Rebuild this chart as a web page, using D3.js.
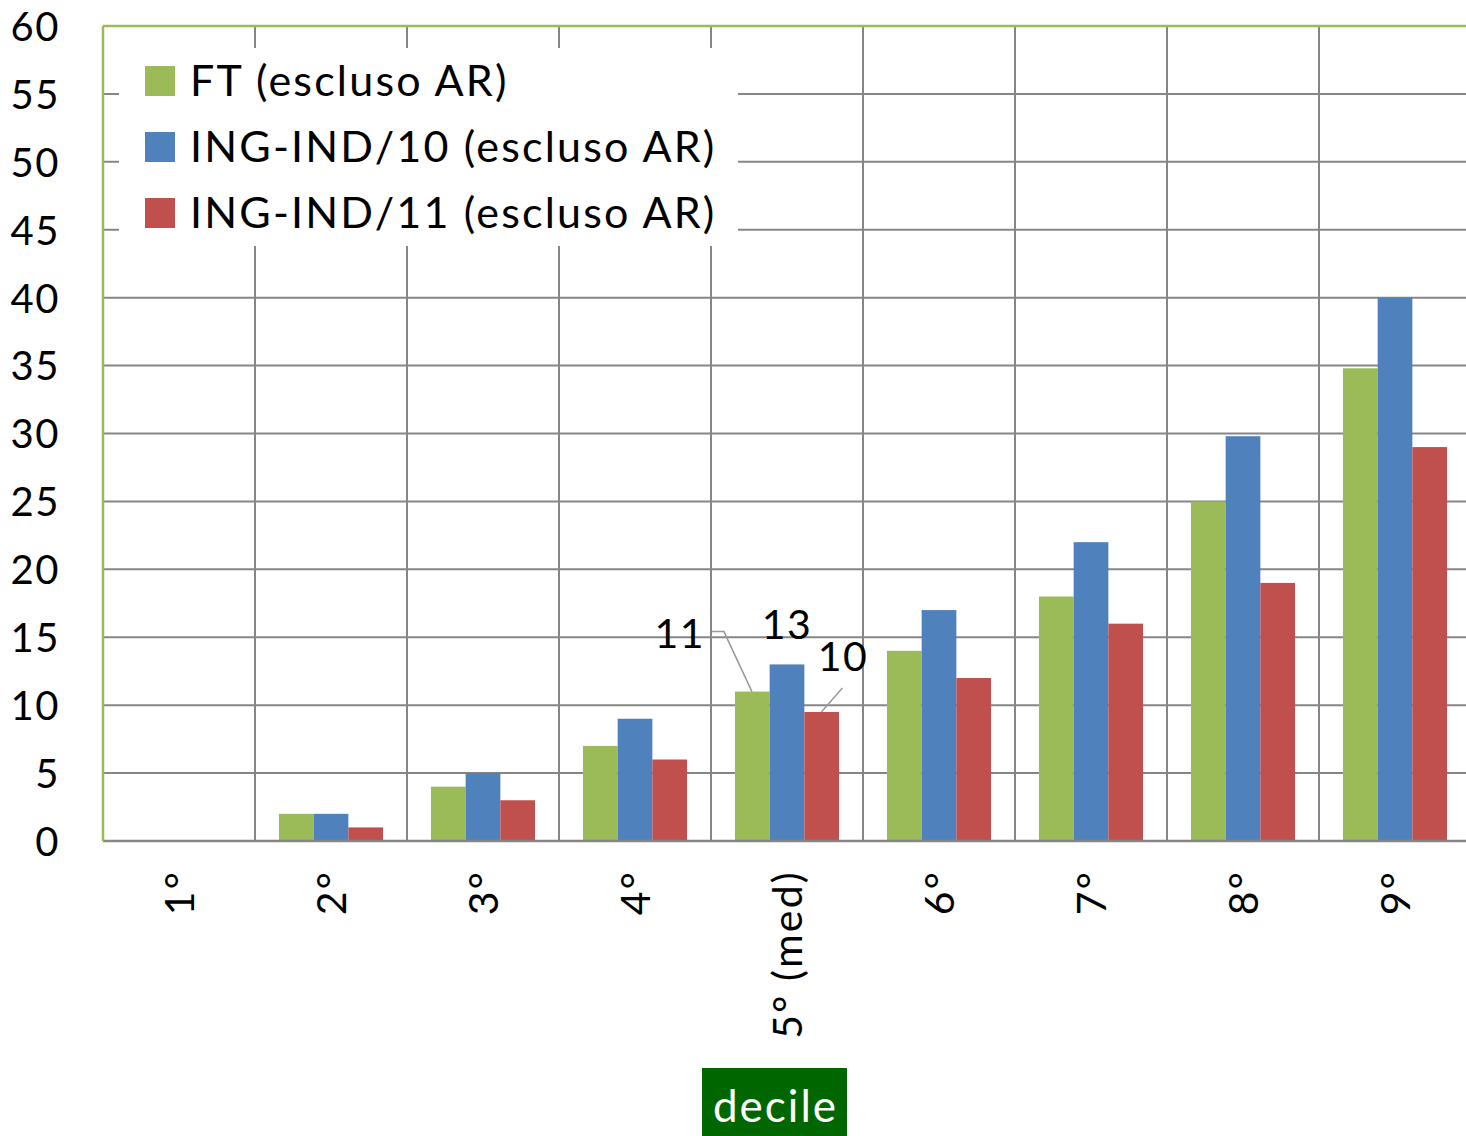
<!DOCTYPE html>
<html><head><meta charset="utf-8">
<script src="https://cdn.jsdelivr.net/npm/d3@7/dist/d3.min.js"></script>
<style>
html,body{margin:0;padding:0;background:#fff;}
text{font-family:Lato,"Open Sans",sans-serif;}
</style></head>
<body><svg id="chart" width="1466" height="1136"></svg>
<script>
const categories = ["1°","2°","3°","4°","5° (med)","6°","7°","8°","9°"];
const seriesNames = ["FT (escluso AR)","ING-IND/10 (escluso AR)","ING-IND/11 (escluso AR)"];
const seriesColors = ["#9BBB59","#4F81BD","#C0504D"];
const ftValues    = [0, 2, 4, 7, 11, 14, 18, 25, 34.8];
const ind10Values = [0, 2, 5, 9, 13, 17, 22, 29.8, 40];
const ind11Values = [0, 1, 3, 6, 9.5, 12, 16, 19, 29];
const yTicks = [0,5,10,15,20,25,30,35,40,45,50,55,60];
const dataLabels = [
  {cat:"5° (med)", s:0, text:"11"},
  {cat:"5° (med)", s:1, text:"13"},
  {cat:"5° (med)", s:2, text:"10"}
];
const axisTitle = "decile";

const seriesValues = [ftValues, ind10Values, ind11Values];
const svg = d3.select("#chart");
const m = {left:103, top:26};
const W = 1368, H = 815;
const LS = 2.2;
const g = svg.append("g").attr("transform",`translate(${m.left},${m.top})`);

const x0 = d3.scaleBand().domain(categories).range([0,W]).padding(0);
const x1 = d3.scaleBand().domain(d3.range(3)).range([0,x0.bandwidth()]).paddingInner(0).paddingOuter(0.69);
const y = d3.scaleLinear().domain([0,60]).range([H,0]);

const grid = "#868686";
g.selectAll(".hg").data(yTicks.filter(t=>t>0 && t<60)).enter().append("line")
  .attr("x1",0).attr("x2",W).attr("y1",d=>y(d)).attr("y2",d=>y(d))
  .attr("stroke",grid).attr("stroke-width",2);
g.selectAll(".vg").data(categories.slice(1)).enter().append("line")
  .attr("x1",d=>x0(d)).attr("x2",d=>x0(d)).attr("y1",0).attr("y2",H)
  .attr("stroke",grid).attr("stroke-width",2);

// legend background
svg.append("rect").attr("x",119).attr("y",48).attr("width",619).attr("height",198).attr("fill","#fff");

// bars
seriesValues.forEach((vals,s)=>{
  g.selectAll(".b"+s).data(categories.map((c,i)=>({c,v:vals[i]}))).enter().append("rect")
    .attr("x",d=>x0(d.c)+x1(s)).attr("width",x1.bandwidth())
    .attr("y",d=>y(d.v)).attr("height",d=>H-y(d.v))
    .attr("fill",seriesColors[s]);
});

// axes lines
g.append("line").attr("x1",0).attr("x2",W).attr("y1",H).attr("y2",H).attr("stroke",grid).attr("stroke-width",2.5);
g.append("line").attr("x1",0).attr("x2",0).attr("y1",0).attr("y2",H).attr("stroke","#9BBB59").attr("stroke-width",2.5);
g.append("line").attr("x1",0).attr("x2",W).attr("y1",0).attr("y2",0).attr("stroke","#9BBB59").attr("stroke-width",2.5);

// y axis labels
const ya = g.append("g").call(d3.axisLeft(y).tickValues(yTicks).tickSize(0).tickPadding(43));
ya.select(".domain").remove();
ya.selectAll("text").attr("font-size",40).attr("fill","#000").attr("font-family","Lato")
  .attr("letter-spacing",1.5).attr("dy","0.36em");

// x axis labels
const xa = g.append("g").attr("transform",`translate(0,${H})`);
xa.selectAll("text").data(categories).enter().append("text")
  .attr("transform",d=>`translate(${x0(d)+x0.bandwidth()/2},29) rotate(-90)`)
  .attr("text-anchor","end").attr("dy","0.36em").attr("letter-spacing",LS)
  .attr("font-size",41).attr("fill","#000").text(d=>d);

// data labels with leaders
const lbl = g.append("g").attr("font-size",41).attr("letter-spacing",1.5);
const dl = dataLabels.map(d=>{
  const bx = x0(d.cat)+x1(d.s), bw = x1.bandwidth(), v = seriesValues[d.s][categories.indexOf(d.cat)];
  return {...d, bx, bw, top:y(v)};
});
{
  const d = dl[0];
  lbl.append("polyline").attr("points",[[d.bx-23,d.top-60],[d.bx-11,d.top-60],[d.bx+17,d.top]].map(p=>p.join(",")).join(" "))
    .attr("fill","none").attr("stroke","#999").attr("stroke-width",1.5);
  lbl.append("text").attr("x",d.bx-30).attr("y",d.top-44).attr("text-anchor","end").text(d.text);
}
{
  const d = dl[1];
  lbl.append("text").attr("x",d.bx+d.bw/2).attr("y",d.top-25).attr("text-anchor","middle").text(d.text);
}
{
  const d = dl[2];
  lbl.append("polyline").attr("points",[[d.bx+38,d.top-24],[d.bx+17,d.top]].map(p=>p.join(",")).join(" "))
    .attr("fill","none").attr("stroke","#999").attr("stroke-width",1.5);
  lbl.append("text").attr("x",d.bx+d.bw+4).attr("y",d.top-41).attr("text-anchor","middle").text(d.text);
}

// legend
const lg = svg.append("g");
seriesNames.forEach((n,i)=>{
  const cy = 81 + i*66;
  lg.append("rect").attr("x",145).attr("y",cy-15).attr("width",30).attr("height",30).attr("fill",seriesColors[i]);
  lg.append("text").attr("x",190).attr("y",cy).attr("dy","0.36em").attr("font-size",43)
    .attr("letter-spacing",LS).attr("fill","#000").text(n);
});

// axis title
svg.append("rect").attr("x",702).attr("y",1068).attr("width",145).attr("height",68).attr("fill","#006600");
svg.append("text").attr("x",775.5).attr("y",1106).attr("dy","0.36em").attr("text-anchor","middle")
  .attr("font-size",44).attr("letter-spacing",2).attr("fill","#fff").text(axisTitle);
</script></body></html>
